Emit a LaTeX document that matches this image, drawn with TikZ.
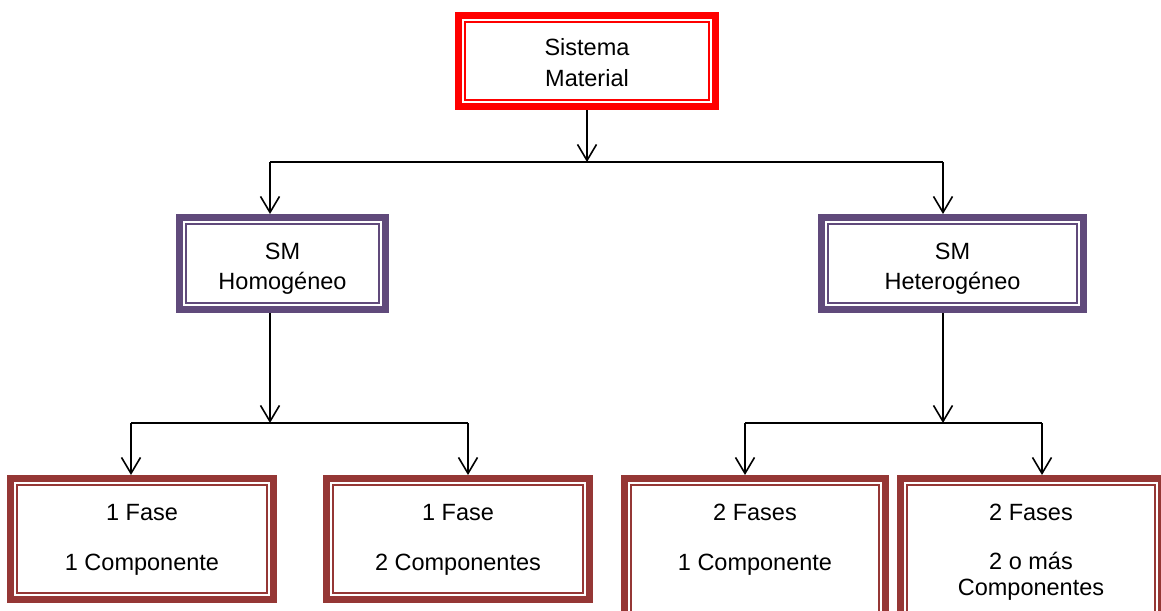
\documentclass[tikz,border=0pt]{standalone}
\usepackage{fontspec}
\setmainfont{Liberation Sans}
\usetikzlibrary{arrows.meta}
\definecolor{topred}{HTML}{FF0000}
\definecolor{midpurple}{HTML}{604A7B}
\definecolor{lowred}{HTML}{953735}
\begin{document}
\begin{tikzpicture}[x=1pt,y=-1pt,
  frame/.style={draw=#1, line width=7pt, fill=white, inner sep=0pt,
    path picture={\draw[#1, line width=1.5pt]
      ([shift={(6.5pt,-6.5pt)}]path picture bounding box.north west) rectangle
      ([shift={(-6.5pt,6.5pt)}]path picture bounding box.south east);}},
  lbl/.style={anchor=base, inner sep=0pt, font=\fontsize{23.5pt}{28pt}\selectfont},
  link/.style={line width=1.6pt, black},
  arr/.style={link, -{Straight Barb[length=16pt,width=19pt]}}
]
\useasboundingbox (0,0) rectangle (1161,610);

% level 0
\node[frame=topred, minimum width=257pt, minimum height=91pt] (top) at (587,61) {};
\node[lbl] (t0a) at (587,56) {Sistema};
\node[lbl] (t0b) at (587,86) {Material};

% level 1
\node[frame=midpurple, minimum width=206pt, minimum height=92pt] (mL) at (282.5,263.5) {};
\node[frame=midpurple, minimum width=262pt, minimum height=92pt] (mR) at (952.5,263.5) {};
\node[lbl] (tLa) at (282.5,259.5) {SM};
\node[lbl] (tLb) at (282.5,289) {Homogéneo};
\node[lbl] (tRa) at (952.5,259.5) {SM};
\node[lbl] (tRb) at (952.5,289) {Heterogéneo};

% level 2 boxes
\node[frame=lowred, minimum width=263pt, minimum height=121pt] (b1) at (142,539) {};
\node[frame=lowred, minimum width=263pt, minimum height=121pt] (b2) at (458,539) {};
\node[frame=lowred, minimum width=261pt, minimum height=171.5pt] (b3) at (755,564.25) {};
\node[frame=lowred, minimum width=261pt, minimum height=171.5pt] (b4) at (1031,564.25) {};

% level 2 texts
\node[lbl] (t1a) at (142,520) {1 Fase};
\node[lbl] (t1b) at (142,570) {1 Componente};
\node[lbl] (t2a) at (458,520) {1 Fase};
\node[lbl] (t2b) at (458,570) {2 Componentes};
\node[lbl] (t3a) at (755,520) {2 Fases};
\node[lbl] (t3b) at (755,570) {1 Componente};
\node[lbl] (t4a) at (1031,520) {2 Fases};
\node[lbl] (t4b) at (1031,569) {2 o más};
\node[lbl] (t4c) at (1031,595) {Componentes};

% junction points of the connectors
\coordinate (j1)  at (587,162);
\coordinate (j1l) at (270,162);
\coordinate (j1r) at (943,162);
\coordinate (j2)  at (270,423);
\coordinate (j2l) at (131,423);
\coordinate (j2r) at (468,423);
\coordinate (j3)  at (943,423);
\coordinate (j3l) at (745,423);
\coordinate (j3r) at (1042,423);

% connectors
\draw[arr] (top.south) -- (j1);
\draw[link] (j1l) -- (j1r);
\draw[arr] (j1l) -- (j1l |- mL.north);
\draw[arr] (j1r) -- (j1r |- mR.north);

\draw[arr] (mL.south -| j2) -- (j2);
\draw[link] (j2l) -- (j2r);
\draw[arr] (j2l) -- (j2l |- b1.north);
\draw[arr] (j2r) -- (j2r |- b2.north);

\draw[arr] (mR.south -| j3) -- (j3);
\draw[link] (j3l) -- (j3r);
\draw[arr] (j3l) -- (j3l |- b3.north);
\draw[arr] (j3r) -- (j3r |- b4.north);
\end{tikzpicture}
\end{document}
